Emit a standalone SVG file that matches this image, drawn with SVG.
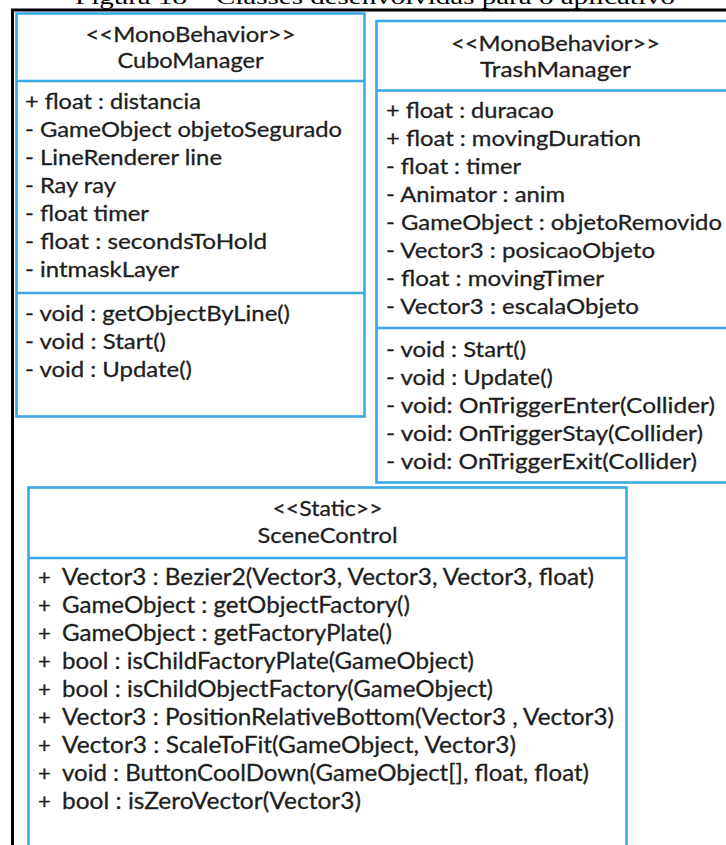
<svg xmlns="http://www.w3.org/2000/svg" width="726" height="845" viewBox="0 0 726 845">
  <style>
    .frame { stroke: #000; stroke-width: 3; fill: none; }
    .box { fill: #fff; stroke: #3aa9e6; stroke-width: 2.6; }
    .sep { stroke: #3aa9e6; stroke-width: 2.6; }
    .t { font-family: Lato, "Noto Sans", "Liberation Sans", sans-serif; font-size: 22px; fill: #1e1e1e; stroke: #1e1e1e; stroke-width: 0.3; }
    .c { font-size: 23px; }
    .h { text-anchor: middle; }
    .cap { font-family: "Liberation Serif", "Times New Roman", serif; font-size: 21px; fill: #000; }
  </style>

  <rect x="0" y="0" width="726" height="845" fill="#fff"/>

  <!-- caption above the figure frame (clipped at the top edge) -->
  <text class="cap" x="375" y="4" text-anchor="middle" textLength="600" lengthAdjust="spacingAndGlyphs">Figura 18 – Classes desenvolvidas para o aplicativo</text>

  <!-- figure frame -->
  <g id="frame">
    <line class="frame" x1="11" y1="10" x2="726" y2="10"/>
    <line class="frame" x1="12.5" y1="10" x2="12.5" y2="845"/>
  </g>

  <!-- class: CuboManager -->
  <g id="cubo-manager">
    <rect class="box" x="16.5" y="13.5" width="348" height="403"/>
    <line class="sep" x1="16.5" y1="81" x2="364.5" y2="81"/>
    <line class="sep" x1="16.5" y1="293" x2="364.5" y2="293"/>
    <text class="t h" x="190.5" y="42" textLength="210" lengthAdjust="spacingAndGlyphs">&lt;&lt;MonoBehavior&gt;&gt;</text>
    <text class="t h" x="190.5" y="68" textLength="146" lengthAdjust="spacingAndGlyphs">CuboManager</text>
    <text class="t" x="25" y="109" textLength="176" lengthAdjust="spacingAndGlyphs">+ float : distancia</text>
    <text class="t" x="25" y="137" textLength="317" lengthAdjust="spacingAndGlyphs">- GameObject objetoSegurado</text>
    <text class="t" x="25" y="165" textLength="197" lengthAdjust="spacingAndGlyphs">- LineRenderer line</text>
    <text class="t" x="25" y="193" textLength="91" lengthAdjust="spacingAndGlyphs">- Ray ray</text>
    <text class="t" x="25" y="221" textLength="124" lengthAdjust="spacingAndGlyphs">- float timer</text>
    <text class="t" x="25" y="249" textLength="242" lengthAdjust="spacingAndGlyphs">- float : secondsToHold</text>
    <text class="t" x="25" y="277" textLength="154" lengthAdjust="spacingAndGlyphs">- intmaskLayer</text>
    <text class="t" x="25" y="321" textLength="265" lengthAdjust="spacingAndGlyphs">- void : getObjectByLine()</text>
    <text class="t" x="25" y="349" textLength="141" lengthAdjust="spacingAndGlyphs">- void : Start()</text>
    <text class="t" x="25" y="377" textLength="167" lengthAdjust="spacingAndGlyphs">- void : Update()</text>
  </g>

  <!-- class: TrashManager -->
  <g id="trash-manager">
    <rect class="box" x="376.5" y="21" width="360" height="461.5"/>
    <line class="sep" x1="376.5" y1="90.5" x2="726" y2="90.5"/>
    <line class="sep" x1="376.5" y1="328" x2="726" y2="328"/>
    <text class="t h" x="555.5" y="51" textLength="209" lengthAdjust="spacingAndGlyphs">&lt;&lt;MonoBehavior&gt;&gt;</text>
    <text class="t h" x="555.5" y="77" textLength="151" lengthAdjust="spacingAndGlyphs">TrashManager</text>
    <text class="t" x="386" y="118" textLength="168" lengthAdjust="spacingAndGlyphs">+ float : duracao</text>
    <text class="t" x="386" y="146" textLength="255" lengthAdjust="spacingAndGlyphs">+ float : movingDuration</text>
    <text class="t" x="386" y="174" textLength="135" lengthAdjust="spacingAndGlyphs">- float : timer</text>
    <text class="t" x="386" y="202" textLength="179" lengthAdjust="spacingAndGlyphs">- Animator : anim</text>
    <text class="t" x="386" y="230" textLength="336" lengthAdjust="spacingAndGlyphs">- GameObject : objetoRemovido</text>
    <text class="t" x="386" y="258" textLength="269" lengthAdjust="spacingAndGlyphs">- Vector3 : posicaoObjeto</text>
    <text class="t" x="386" y="286" textLength="218" lengthAdjust="spacingAndGlyphs">- float : movingTimer</text>
    <text class="t" x="386" y="314" textLength="253" lengthAdjust="spacingAndGlyphs">- Vector3 : escalaObjeto</text>
    <text class="t" x="386" y="357" textLength="140" lengthAdjust="spacingAndGlyphs">- void : Start()</text>
    <text class="t" x="386" y="385" textLength="167" lengthAdjust="spacingAndGlyphs">- void : Update()</text>
    <text class="t" x="386" y="413" textLength="329" lengthAdjust="spacingAndGlyphs">- void: OnTriggerEnter(Collider)</text>
    <text class="t" x="386" y="441" textLength="317" lengthAdjust="spacingAndGlyphs">- void: OnTriggerStay(Collider)</text>
    <text class="t" x="386" y="469" textLength="311" lengthAdjust="spacingAndGlyphs">- void: OnTriggerExit(Collider)</text>
  </g>

  <!-- class: SceneControl -->
  <g id="scene-control">
    <rect class="box" x="28.5" y="487.5" width="598" height="370"/>
    <line class="sep" x1="28.5" y1="558" x2="626.5" y2="558"/>
    <text class="t h" x="327.5" y="516" textLength="110" lengthAdjust="spacingAndGlyphs">&lt;&lt;Static&gt;&gt;</text>
    <text class="t h" x="327.5" y="543" textLength="140" lengthAdjust="spacingAndGlyphs">SceneControl</text>
    <g class="ops">
      <text class="t" x="38" y="585">+</text>
      <text class="t c" x="62" y="585" textLength="532" lengthAdjust="spacingAndGlyphs">Vector3 : Bezier2(Vector3, Vector3, Vector3, float)</text>
      <text class="t" x="38" y="613">+</text>
      <text class="t c" x="62" y="613" textLength="348" lengthAdjust="spacingAndGlyphs">GameObject : getObjectFactory()</text>
      <text class="t" x="38" y="641">+</text>
      <text class="t c" x="62" y="641" textLength="330" lengthAdjust="spacingAndGlyphs">GameObject : getFactoryPlate()</text>
      <text class="t" x="38" y="669">+</text>
      <text class="t c" x="62" y="669" textLength="412" lengthAdjust="spacingAndGlyphs">bool : isChildFactoryPlate(GameObject)</text>
      <text class="t" x="38" y="697">+</text>
      <text class="t c" x="62" y="697" textLength="431" lengthAdjust="spacingAndGlyphs">bool : isChildObjectFactory(GameObject)</text>
      <text class="t" x="38" y="725">+</text>
      <text class="t c" x="62" y="725" textLength="552" lengthAdjust="spacingAndGlyphs">Vector3 : PositionRelativeBottom(Vector3 , Vector3)</text>
      <text class="t" x="38" y="753">+</text>
      <text class="t c" x="62" y="753" textLength="454" lengthAdjust="spacingAndGlyphs">Vector3 : ScaleToFit(GameObject, Vector3)</text>
      <text class="t" x="38" y="781">+</text>
      <text class="t c" x="62" y="781" textLength="527" lengthAdjust="spacingAndGlyphs">void : ButtonCoolDown(GameObject[], float, float)</text>
      <text class="t" x="38" y="809">+</text>
      <text class="t c" x="62" y="809" textLength="299" lengthAdjust="spacingAndGlyphs">bool : isZeroVector(Vector3)</text>
    </g>
  </g>
</svg>
